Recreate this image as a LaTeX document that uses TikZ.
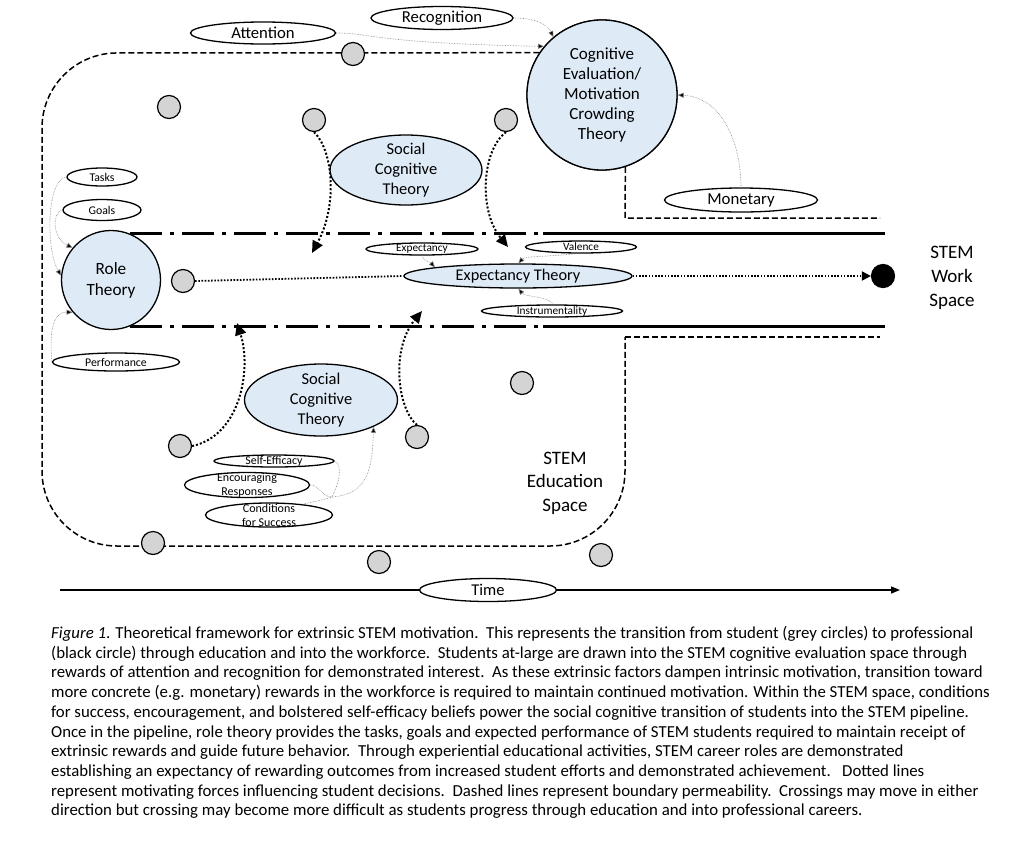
\documentclass[tikz,border=0pt]{standalone}
\usepackage{fontspec}
\setmainfont{Carlito}
\usetikzlibrary{arrows.meta,shapes.geometric}
\definecolor{theoryfill}{HTML}{DEEBF7}
\definecolor{studentgrey}{HTML}{D4D4D4}
\begin{document}
\begin{tikzpicture}[x=1pt,y=-1pt,
  theory/.style={draw, line width=1.3pt, fill=theoryfill, inner sep=0pt},
  lbl/.style={draw, ellipse, line width=1.3pt, fill=white, inner sep=0pt},
  txt/.style={align=center, inner sep=0pt},
  capline/.style={anchor=base west, inner sep=0pt, font=\fontsize{16.8}{19.7}\selectfont},
  student/.style={circle, draw, line width=1.2pt, fill=studentgrey, minimum size=23pt, inner sep=0pt},
  prof/.style={circle, draw, line width=1.2pt, fill=black, minimum size=23pt, inner sep=0pt},
  thinconn/.style={draw=gray, line width=0.6pt, densely dotted, -{Triangle[length=6pt,width=5pt,fill=black]}},
  thinline/.style={draw=gray, line width=0.6pt, densely dotted},
  force/.style={line width=2pt, dash pattern=on 2pt off 2pt, -{Triangle[length=12pt,width=11pt]}},
  boundary/.style={line width=1.5pt, dash pattern=on 6pt off 3pt},
  pipedash/.style={line width=3pt, dash pattern=on 32pt off 8pt on 4pt off 8pt},
  pipesolid/.style={line width=3pt},
]
\useasboundingbox (0,0) rectangle (1024,849);
\fill[white] (0,0) rectangle (1024,849);

% ---------- boundaries ----------
\node[theory, circle, minimum size=150pt] (cet) at (602,95) {};
\draw[boundary, rounded corners=75pt] (cet.146) -- (42,53) -- (42,546) -- (625,546) -- (625,337);
\draw[boundary] (625,337) -- (880,337);
\draw[boundary] (cet.-72) -- (625,218) -- (880,218);

\draw[pipedash] (130,233) -- (540,233);
\draw[pipesolid] (543,233) -- (885,233);
\draw[pipedash] (130,326) -- (540,326);
\draw[pipesolid] (543,326) -- (885,326);

% ---------- theory nodes ----------
\node[theory, circle, minimum size=150pt,
  label={[txt,font=\fontsize{17}{20}\selectfont]center:Cognitive\\Evaluation/\\Motivation\\Crowding\\Theory}] (cet) at (602,95) {};
\node[theory, circle, minimum size=99pt,
  label={[txt,font=\fontsize{17.2}{21}\selectfont]center:Role\\Theory}] (role) at (111,280) {};
\node[theory, ellipse, minimum width=152pt, minimum height=70pt,
  label={[txt,font=\fontsize{16.5}{20}\selectfont]center:Social\\Cognitive\\Theory}] (sct1) at (406,170) {};
\node[theory, ellipse, minimum width=153pt, minimum height=72pt,
  label={[txt,font=\fontsize{16.5}{20}\selectfont]center:Social\\Cognitive\\Theory}] (sct2) at (321,400) {};
\node[theory, ellipse, minimum width=228pt, minimum height=24pt,
  label={[txt,font=\fontsize{16.3}{18}\selectfont]center:Expectancy Theory}] (expth) at (518,276) {};

% ---------- label ellipses ----------
\node[lbl, minimum width=145pt, minimum height=22pt,
  label={[txt,font=\fontsize{16.7}{18}\selectfont]center:Attention}] (att) at (263,33) {};
\node[lbl, minimum width=142pt, minimum height=23pt,
  label={[txt,font=\fontsize{16.7}{18}\selectfont]center:Recognition}] (rec) at (442,18) {};
\node[lbl, minimum width=153pt, minimum height=24pt,
  label={[txt,font=\fontsize{16.8}{18}\selectfont]center:Monetary}] (mon) at (741,200) {};
\node[lbl, minimum width=70pt, minimum height=18pt,
  label={[txt,font=\fontsize{11.8}{13}\selectfont]center:Tasks}] (tasks) at (102,177) {};
\node[lbl, minimum width=78pt, minimum height=21pt,
  label={[txt,font=\fontsize{11.8}{13}\selectfont]center:Goals}] (goals) at (102,210) {};
\node[lbl, minimum width=127pt, minimum height=18pt,
  label={[txt,font=\fontsize{11.8}{13}\selectfont]center:Performance}] (perf) at (116,362) {};
\node[lbl, minimum width=112pt, minimum height=12pt,
  label={[txt,font=\fontsize{11.3}{13}\selectfont]center:Expectancy}] (expsm) at (422,249) {};
\node[lbl, minimum width=111pt, minimum height=12pt,
  label={[txt,font=\fontsize{11.3}{13}\selectfont]center:Valence}] (val) at (581,247) {};
\node[lbl, minimum width=141pt, minimum height=12pt,
  label={[txt,font=\fontsize{11.3}{13}\selectfont]center:Instrumentality}] (instr) at (552,311) {};
\node[lbl, minimum width=120pt, minimum height=12pt,
  label={[txt,font=\fontsize{11.9}{13}\selectfont]center:Self-Efficacy}] (seff) at (274,461) {};
\node[lbl, minimum width=125pt, minimum height=25pt,
  label={[txt,font=\fontsize{12}{14}\selectfont]center:Encouraging\\Responses}] (enc) at (247,485) {};
\node[lbl, minimum width=127pt, minimum height=24pt,
  label={[txt,font=\fontsize{12}{14}\selectfont]center:Conditions\\for Success}] (cond) at (269,515) {};

% ---------- students ----------
\node[student] (s1) at (353,54) {};
\node[student] (s2) at (169,107) {};
\node[student] (s3) at (314,120) {};
\node[student] (s4) at (506,120) {};
\node[student] (s5) at (183,281) {};
\node[student] (s6) at (522,383) {};
\node[student] (s7) at (180,446) {};
\node[student] (s8) at (417,437) {};
\node[student] (s9) at (153,543) {};
\node[student] (s10) at (379,562) {};
\node[student] (s11) at (601,555) {};
\node[prof] (pro) at (883,276) {};

% ---------- space labels ----------
\node[txt, font=\fontsize{19}{23.5}\selectfont] (edu) at (565,483) {STEM\\Education\\Space};
\node[txt, font=\fontsize{19}{24}\selectfont] (work) at (952,278) {STEM\\Work\\Space};

% ---------- time axis ----------
\coordinate (t0) at (60,590);
\coordinate (t1) at (900,590);
\draw[line width=1.3pt, -{Triangle[length=9pt,width=7pt]}] (t0) -- (t1);
\node[lbl, minimum width=137pt, minimum height=23pt,
  label={[txt,font=\fontsize{16.5}{18}\selectfont]center:Time}] (time) at (488,590) {};

% ---------- thin connectors ----------
\draw[thinconn] (att.east) .. controls (372,33) and (372,43) .. (cet.140);
\draw[thinconn] (rec.east) .. controls (535,18) and (547,24) .. (cet.130);
\draw[thinconn] (mon.north) .. controls (741,140) and (720,97) .. (cet.east);
\draw[thinconn] (tasks.west) .. controls (46,180) and (46,250) .. (role.175);
\draw[thinconn] (goals.west) .. controls (52,212) and (52,238) .. (role.140);
\draw[thinconn] (perf.west) .. controls (50,340) and (50,312) .. (role.220);
\draw[thinconn] (expsm.south) .. controls (424,262) and (430,262) .. (expth.174);
\draw[thinconn] (val.235) .. controls (545,257) and (525,256) .. (expth.88);
\draw[thinconn] (instr.78) .. controls (548,296) and (525,297) .. (expth.272);
\coordinate (merge) at (332,497);
\draw[thinline] (seff.east) .. controls (344,466) and (338,485) .. (merge);
\draw[thinline] (enc.east) .. controls (318,484) and (322,497) .. (merge);
\draw[thinline] (cond.18) .. controls (322,500) .. (merge);
\draw[thinconn] (merge) .. controls (368,494) and (372,470) .. (sct2.333);

% ---------- motivating forces ----------
\coordinate (f1) at (312,253);
\coordinate (f2) at (508,247);
\coordinate (f3) at (237,323);
\coordinate (f4) at (422,311);
\draw[force] (s3.south) .. controls (333,150) and (338,205) .. (f1);
\draw[force] (s4.south) .. controls (482,150) and (478,210) .. (f2);
\draw[force] (s7.east) .. controls (240,436) and (252,370) .. (f3);
\draw[force] (s8.north) .. controls (398,410) and (390,350) .. (f4);
\draw[line width=1.8pt, dash pattern=on 1.6pt off 1.6pt] (s5.east) -- (expth.west);
\draw[line width=1.8pt, dash pattern=on 1.6pt off 1.6pt, -{Triangle[length=9pt,width=9pt]}] (expth.east) -- (pro.west);

% ---------- caption ----------
\node[capline] (cap1) at (51,638.5) {\textit{Figure 1}. Theoretical framework for extrinsic STEM motivation.\ \ This represents the transition from student (grey circles) to professional};
\node[capline] (cap2) at (51,658.2) {(black circle) through education and into the workforce.\ \ Students at-large are drawn into the STEM cognitive evaluation space through};
\node[capline] (cap3) at (51,677.9) {rewards of attention and recognition for demonstrated interest.\ \ As these extrinsic factors dampen intrinsic motivation, transition toward};
\node[capline] (cap4) at (51,697.6) {more concrete (e.g. monetary) rewards in the workforce is required to maintain continued motivation. Within the STEM space, conditions};
\node[capline] (cap5) at (51,717.3) {for success, encouragement, and bolstered self-efficacy beliefs power the social cognitive transition of students into the STEM pipeline.};
\node[capline] (cap6) at (51,737.0) {Once in the pipeline, role theory provides the tasks, goals and expected performance of STEM students required to maintain receipt of};
\node[capline] (cap7) at (51,756.7) {extrinsic rewards and guide future behavior.\ \ Through experiential educational activities, STEM career roles are demonstrated};
\node[capline] (cap8) at (51,776.4) {establishing an expectancy of rewarding outcomes from increased student efforts and demonstrated achievement.\ \ \ Dotted lines};
\node[capline] (cap9) at (51,796.1) {represent motivating forces influencing student decisions.\ \ Dashed lines represent boundary permeability.\ \ Crossings may move in either};
\node[capline] (cap10) at (51,815.8) {direction but crossing may become more difficult as students progress through education and into professional careers.};
\end{tikzpicture}
\end{document}
